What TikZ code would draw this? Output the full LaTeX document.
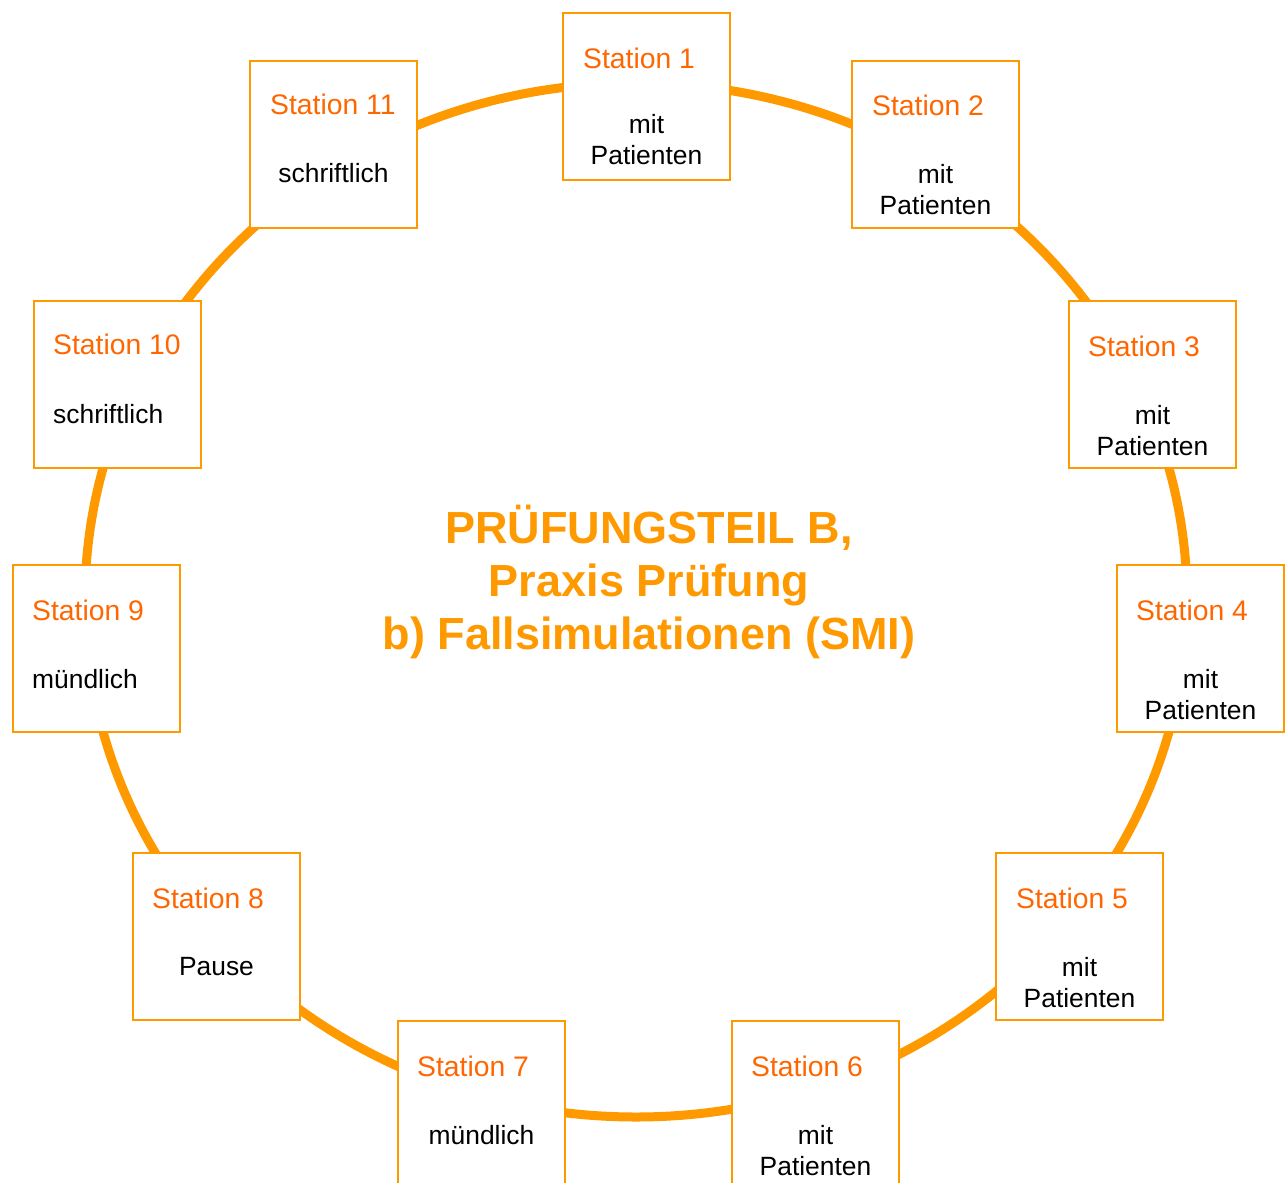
\documentclass[tikz,border=0pt]{standalone}
\usepackage{fontspec}
\setmainfont{Liberation Sans}
\definecolor{ringc}{HTML}{FF9900}
\definecolor{boxc}{HTML}{FF9900}
\definecolor{titlec}{HTML}{FF6600}
\begin{document}
\begin{tikzpicture}[x=1pt,y=-1pt,
  stationbox/.style={draw=boxc, line width=2pt, fill=white, minimum width=167pt, minimum height=167pt, inner sep=0pt, anchor=north west},
  stitle/.style={text=titlec, inner sep=0pt, anchor=west, font=\fontsize{28.3}{34}\selectfont},
  sbody/.style={text=black, inner sep=0pt, align=center, font=\fontsize{26.4}{31}\selectfont},
  sbodyleft/.style={text=black, inner sep=0pt, anchor=west, font=\fontsize{26.4}{31}\selectfont},
  ctitle/.style={text=ringc, align=center, inner sep=0pt, font=\bfseries\fontsize{45}{53}\selectfont}]
\useasboundingbox (0,0) rectangle (1288,1183);
\clip (0,0) rectangle (1288,1183);
\fill[white] (0,0) rectangle (1288,1183);
% ring
\draw[ringc, line width=9pt] (636,600) ellipse [x radius=551pt, y radius=517pt];
% boxes (north west corner of the drawn line)
\node[stationbox] (s1) at (562,12) {};
\node[stationbox] (s2) at (851,60) {};
\node[stationbox] (s3) at (1068,300) {};
\node[stationbox] (s4) at (1116,564) {};
\node[stationbox] (s5) at (995,852) {};
\node[stationbox] (s6) at (731,1020) {};
\node[stationbox] (s7) at (397,1020) {};
\node[stationbox] (s8) at (132,852) {};
\node[stationbox] (s9) at (12,564) {};
\node[stationbox] (s10) at (33,300) {};
\node[stationbox] (s11) at (249,60) {};
% titles
\node[stitle] (t1) at ([xshift=21pt,yshift=-46pt]s1.north west) {Station 1};
\node[stitle] (t2) at ([xshift=21pt,yshift=-45pt]s2.north west) {Station 2};
\node[stitle] (t3) at ([xshift=20pt,yshift=-46pt]s3.north west) {Station 3};
\node[stitle] (t4) at ([xshift=20pt,yshift=-46pt]s4.north west) {Station 4};
\node[stitle] (t5) at ([xshift=21pt,yshift=-46pt]s5.north west) {Station 5};
\node[stitle] (t6) at ([xshift=20pt,yshift=-46pt]s6.north west) {Station 6};
\node[stitle] (t7) at ([xshift=20pt,yshift=-46pt]s7.north west) {Station 7};
\node[stitle] (t8) at ([xshift=20pt,yshift=-46pt]s8.north west) {Station 8};
\node[stitle] (t9) at ([xshift=20pt,yshift=-46pt]s9.north west) {Station 9};
\node[stitle] (t10) at ([xshift=20pt,yshift=-44pt]s10.north west) {Station 10};
\node[stitle] (t11) at ([xshift=21pt,yshift=-44pt]s11.north west) {Station 11};
% bodies
\node[sbody] (b1) at ([yshift=-127.5pt]s1.north) {mit\\Patienten};
\node[sbody] (b2) at ([yshift=-130pt]s2.north) {mit\\Patienten};
\node[sbody] (b3) at ([yshift=-130.5pt]s3.north) {mit\\Patienten};
\node[sbody] (b4) at ([yshift=-130.5pt]s4.north) {mit\\Patienten};
\node[sbody] (b5) at ([yshift=-130.5pt]s5.north) {mit\\Patienten};
\node[sbody] (b6) at ([yshift=-130.5pt]s6.north) {mit\\Patienten};
\node[sbody] (b7) at ([yshift=-115pt]s7.north) {mündlich};
\node[sbody] (b8) at ([yshift=-115pt]s8.north) {Pause};
\node[sbodyleft] (b9) at ([xshift=20pt,yshift=-115pt]s9.north west) {mündlich};
\node[sbodyleft] (b10) at ([xshift=20pt,yshift=-114pt]s10.north west) {schriftlich};
\node[sbody] (b11) at ([yshift=-113pt]s11.north) {schriftlich};
% centre title
\node[ctitle] (ct) at (649,582) {PRÜFUNGSTEIL B,\\Praxis Prüfung\\b) Fallsimulationen (SMI)};
\end{tikzpicture}
\end{document}
